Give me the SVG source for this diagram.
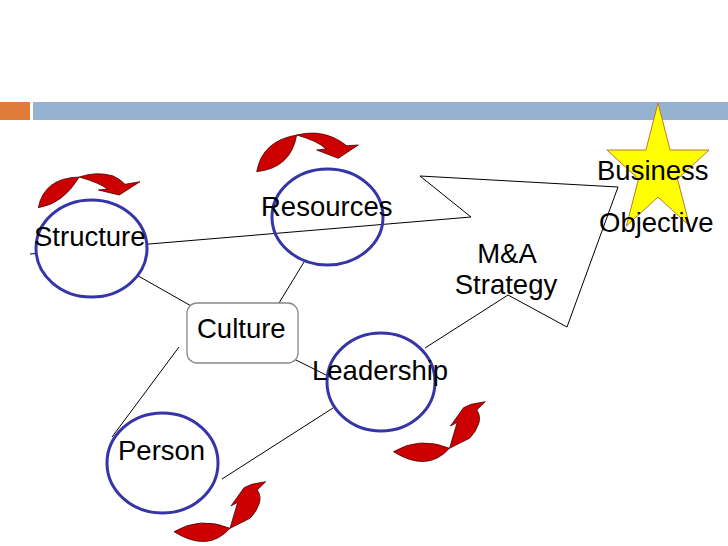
<svg xmlns="http://www.w3.org/2000/svg" width="728" height="546" viewBox="0 0 728 546">
<style>
.lbl{font-family:"Liberation Sans",Arial,sans-serif;font-size:27.5px;fill:#000}
.ring{fill:none;stroke:#3535A8;stroke-width:3}
.ringw{fill:#fff;stroke:#3535A8;stroke-width:3}
.ln{fill:none;stroke:#000;stroke-width:1}
.red{fill:#CC0000;stroke:#4A0000;stroke-width:0.8;stroke-linejoin:round}
</style>
<rect width="728" height="546" fill="#fff"/>
<g id="header">
<rect x="0" y="102" width="30" height="18" fill="#E07B39"/>
<rect x="33" y="102" width="695" height="18" fill="#95B3D0"/>
</g>
<g id="connectors">
<polyline class="ln" points="30,254 471,217 420,176 618,187 567,327 508,295 425,348"/>
<line class="ln" x1="133" y1="273" x2="193" y2="307"/>
<line class="ln" x1="304" y1="262" x2="279" y2="303"/>
<line class="ln" x1="179" y1="347" x2="112" y2="437"/>
<line class="ln" x1="292" y1="358" x2="330" y2="377"/>
<line class="ln" x1="222" y1="479" x2="333" y2="408"/>
</g>
<g id="objective">
<polygon points="658,103 670.1,150 709.1,150 677.5,179 689.6,226 658,197 626.4,226 638.5,179 606.9,150 645.9,150" fill="#FFFF00" stroke="#C0782A" stroke-width="1"/>
<text class="lbl" x="597" y="180">Business</text>
<text class="lbl" x="599" y="232">Objective</text>
</g>
<g id="strategy">
<text class="lbl" x="507" y="263" text-anchor="middle">M&amp;A</text>
<text class="lbl" x="506" y="294" text-anchor="middle">Strategy</text>
</g>
<g id="structure">
<ellipse class="ringw" cx="91.5" cy="248.5" rx="55.5" ry="48.5"/>
<text class="lbl" x="34" y="246">Structure</text>
<path class="red" d="M79.3,177 Q44,178 38.3,207.7 Q63,204 79.3,177 Z"/>
<path class="red" d="M79.3,177 Q96.7,171 113.3,176 Q120,179 125,184.3 L140,181.7 L119.3,195 L98.3,190 L107.3,189 Q100,183 79.3,177 Z"/>
</g>
<g id="resources">
<ellipse class="ring" cx="327.5" cy="217" rx="55.5" ry="48"/>
<text class="lbl" x="261" y="216">Resources</text>
<path class="red" d="M296.7,135 Q262,141 256.7,171.7 Q291,168 296.7,135 Z"/>
<path class="red" d="M296.7,135 Q316.7,130 333.3,137.5 Q341,141 346.7,145.7 L358.3,145 L338.3,158.3 L316.7,150 L326,149 Q318,141 296.7,135 Z"/>
</g>
<g id="culture">
<rect x="187" y="303" width="111" height="60" rx="10" ry="10" fill="#fff" stroke="#888" stroke-width="1.3"/>
<text class="lbl" x="197" y="338">Culture</text>
</g>
<g id="leadership">
<ellipse class="ring" cx="381" cy="382" rx="54" ry="49"/>
<text class="lbl" x="312" y="380">Leadership</text>
<path class="red" d="M449.5,448.3 Q419.5,436 393.5,451.7 Q427.5,473 449.5,448.3 Z"/>
<path class="red" d="M449.5,448.3 L457.2,422.3 L450.5,426 L463.5,407.7 L471.2,404.3 L485.2,401.7 L476.8,410 Q481,416 478.8,423.3 Q476,432 469.5,438.3 Z"/>
</g>
<g id="person">
<ellipse class="ring" cx="162.5" cy="463" rx="55.5" ry="50"/>
<text class="lbl" x="118" y="460">Person</text>
<path class="red" d="M230,528.3 Q200,516 174,531.7 Q208,553 230,528.3 Z"/>
<path class="red" d="M230,528.3 L237.7,502.3 L231,506 L244,487.7 L251.7,484.3 L265.7,481.7 L257.3,490 Q261.5,496 259.3,503.3 Q256.5,512 250,518.3 Z"/>
</g>
</svg>
